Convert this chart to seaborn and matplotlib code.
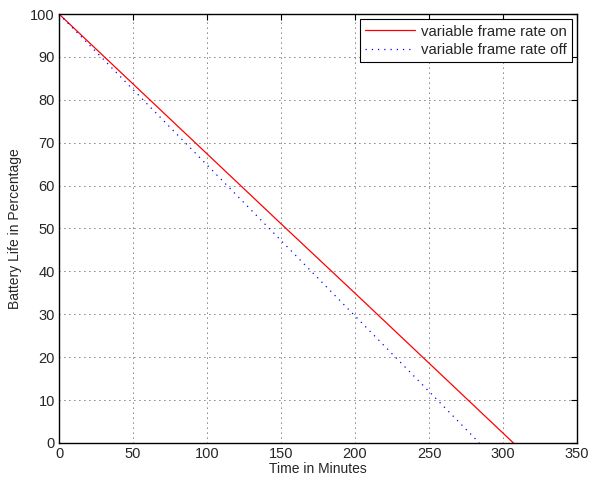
import numpy as np
import pandas as pd
import matplotlib
matplotlib.use("Agg")
import matplotlib.pyplot as plt
import seaborn as sns

# readings (minutes, battery %)
time_on = [0, 50, 100, 150, 200, 250, 307]
battery_on = [100, 83.7, 67.4, 51.1, 34.9, 18.6, 0]
time_off = [0, 50, 100, 150, 200, 250, 284]
battery_off = [100, 82.4, 64.8, 47.2, 29.6, 12.0, 0]

x_ticks = [0, 50, 100, 150, 200, 250, 300, 350]
y_ticks = [0, 10, 20, 30, 40, 50, 60, 70, 80, 90, 100]

sns.set_style("white")
plt.rcParams['font.family'] = ['Liberation Sans', 'DejaVu Sans']

df_on = pd.DataFrame({'t': time_on, 'b': battery_on})
df_off = pd.DataFrame({'t': time_off, 'b': battery_off})

fig = plt.figure(figsize=(5.9, 4.83), dpi=100)
ax = fig.add_axes([0.1, 0.083, 0.878, 0.888])

sns.lineplot(data=df_on, x='t', y='b', ax=ax, color='red', linewidth=0.9,
             label='variable frame rate on')
sns.lineplot(data=df_off, x='t', y='b', ax=ax, color='blue', linewidth=0.9,
             linestyle=(0, (1, 4)), label='variable frame rate off')

ax.set_xlim(0, 350)
ax.set_ylim(0, 100)
ax.set_xticks(x_ticks)
ax.set_yticks(y_ticks)
ax.set_xlabel('Time in Minutes', fontsize=10, labelpad=1)
ax.set_ylabel('Battery Life in Percentage', fontsize=10, labelpad=6)
ax.tick_params(direction='in', top=True, right=True, labelsize=10.5,
               length=4, width=0.8, color='black', pad=3)
ax.grid(True, color='black', linestyle=(0, (1, 5)), linewidth=0.6)
for s in ax.spines.values():
    s.set_color('black')
    s.set_linewidth(1.0)

leg = ax.legend(loc='upper right', fontsize=10.8, frameon=True, fancybox=False,
                borderaxespad=0.35, handlelength=3.3, borderpad=0.35,
                labelspacing=0.3, handletextpad=0.4)
leg.get_frame().set_edgecolor('black')
leg.get_frame().set_linewidth(0.8)
leg.get_frame().set_alpha(1)

fig.savefig('out.png', dpi=100)
